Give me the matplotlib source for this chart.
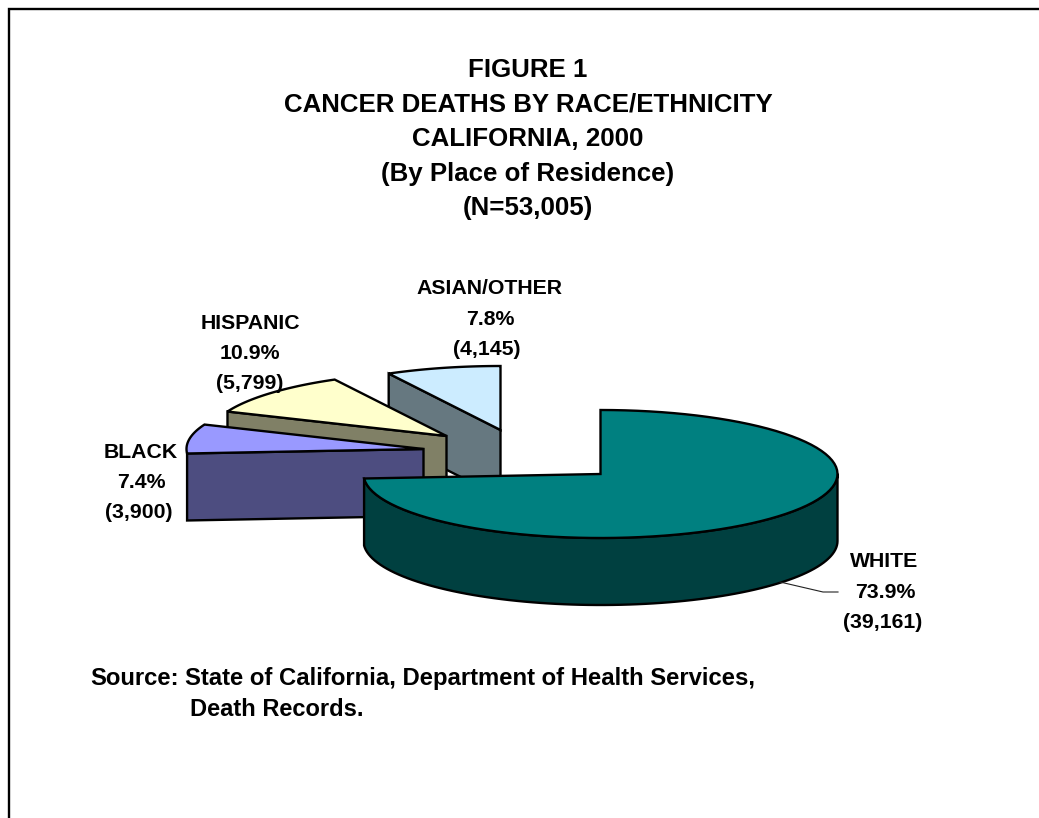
import numpy as np
import matplotlib
matplotlib.use("Agg")
import matplotlib.pyplot as plt
from matplotlib.patches import Polygon

categories = ["WHITE", "BLACK", "HISPANIC", "ASIAN/OTHER"]
deaths = [39161, 3900, 5799, 4145]
percents = ["73.9%", "7.4%", "10.9%", "7.8%"]
counts = ["(39,161)", "(3,900)", "(5,799)", "(4,145)"]
title_lines = ["FIGURE 1", "CANCER DEATHS BY RACE/ETHNICITY", "CALIFORNIA, 2000",
               "(By Place of Residence)", "(N=53,005)"]
source_parts = ["Source:", "State of California, Department of Health Services,", "Death Records."]

top_colors = ["#008080", "#9999FF", "#FFFFCC", "#CCECFF"]
side_colors = ["#004040", "#4D4D80", "#808066", "#667880"]
offsets = [(0, 0), (-177, -25), (-154, -38), (-100, -44)]
CX, CY, RX, RY, DEPTH = 600.5, 474, 237, 64, 67

W, H = 1039, 818
fig = plt.figure(figsize=(W / 100, H / 100), dpi=100, facecolor="white")
ax = fig.add_axes([0, 0, 1, 1])
ax.set_xlim(0, W)
ax.set_ylim(H, 0)
ax.axis("off")
plt.rcParams["font.family"] = ["Liberation Sans"]

FONT = dict(family="Liberation Sans", weight="bold", color="black", ha="center", va="baseline")
ax.plot([8.5, 8.5, W], [H, 8.5, 8.5], color="black", lw=1.7, solid_joinstyle="miter")


def rim(t0, t1, cx, cy):
    t = np.radians(np.linspace(t0, t1, 90))
    return np.column_stack([cx + RX * np.sin(t), cy - RY * np.cos(t)])


edges = np.concatenate([[0], np.cumsum(deaths)]) / sum(deaths) * 360
slices = []
for i in range(len(deaths)):
    cx, cy = CX + offsets[i][0], CY + offsets[i][1]
    slices.append((i, edges[i], edges[i + 1], cx, cy))


def draw_slice(i, t0, t1, cx, cy):
    arc = rim(t0, t1, cx, cy)
    apex = np.array([[cx, cy]])
    drop = np.array([0, DEPTH])
    lw = 1.7
    if i == 0:
        # outer rounded wall of the front slice
        wall = rim(90, t1, cx, cy)
        ax.add_patch(Polygon(np.vstack([wall, (wall + drop)[::-1]]), closed=True,
                             fc=side_colors[i], ec="black", lw=lw, joinstyle="round"))
    else:
        # cut face visible on the exploded slices
        p = rim(t0, t0, cx, cy)[0]
        ax.add_patch(Polygon(np.array([p, apex[0], apex[0] + drop, p + drop]), closed=True,
                             fc=side_colors[i], ec="black", lw=lw, joinstyle="miter"))
    ax.add_patch(Polygon(np.vstack([apex, arc]), closed=True, fc=top_colors[i],
                         ec="black", lw=lw, joinstyle="miter"))


for s in [slices[3], slices[2], slices[1], slices[0]]:
    draw_slice(*s)

ax.plot([780, 823, 838], [582, 592, 592], color="#222222", lw=0.8)

for text, y in zip(title_lines, [77, 112, 146, 181, 215]):
    ax.text(528, y, text, fontsize=18.6, **FONT)

label_pos = {
    0: [(884, 567), (885, 598), (883, 628)],
    1: [(141, 458), (141, 488), (139, 518)],
    2: [(250, 329), (250, 359), (250, 389)],
    3: [(489.5, 294), (490, 325), (487, 355)],
}
for i, name in enumerate(categories):
    for text, (x, y) in zip([name, percents[i], counts[i]], label_pos[i]):
        ax.text(x, y, text, fontsize=15.3, **FONT)

left = {**FONT, "ha": "left"}
ax.text(90, 685, source_parts[0], fontsize=17.2, **left)
ax.text(185, 685, source_parts[1], fontsize=17.2, **left)
ax.text(190, 716, source_parts[2], fontsize=17.0, **left)

fig.savefig("out.png", dpi=100, facecolor="white")
